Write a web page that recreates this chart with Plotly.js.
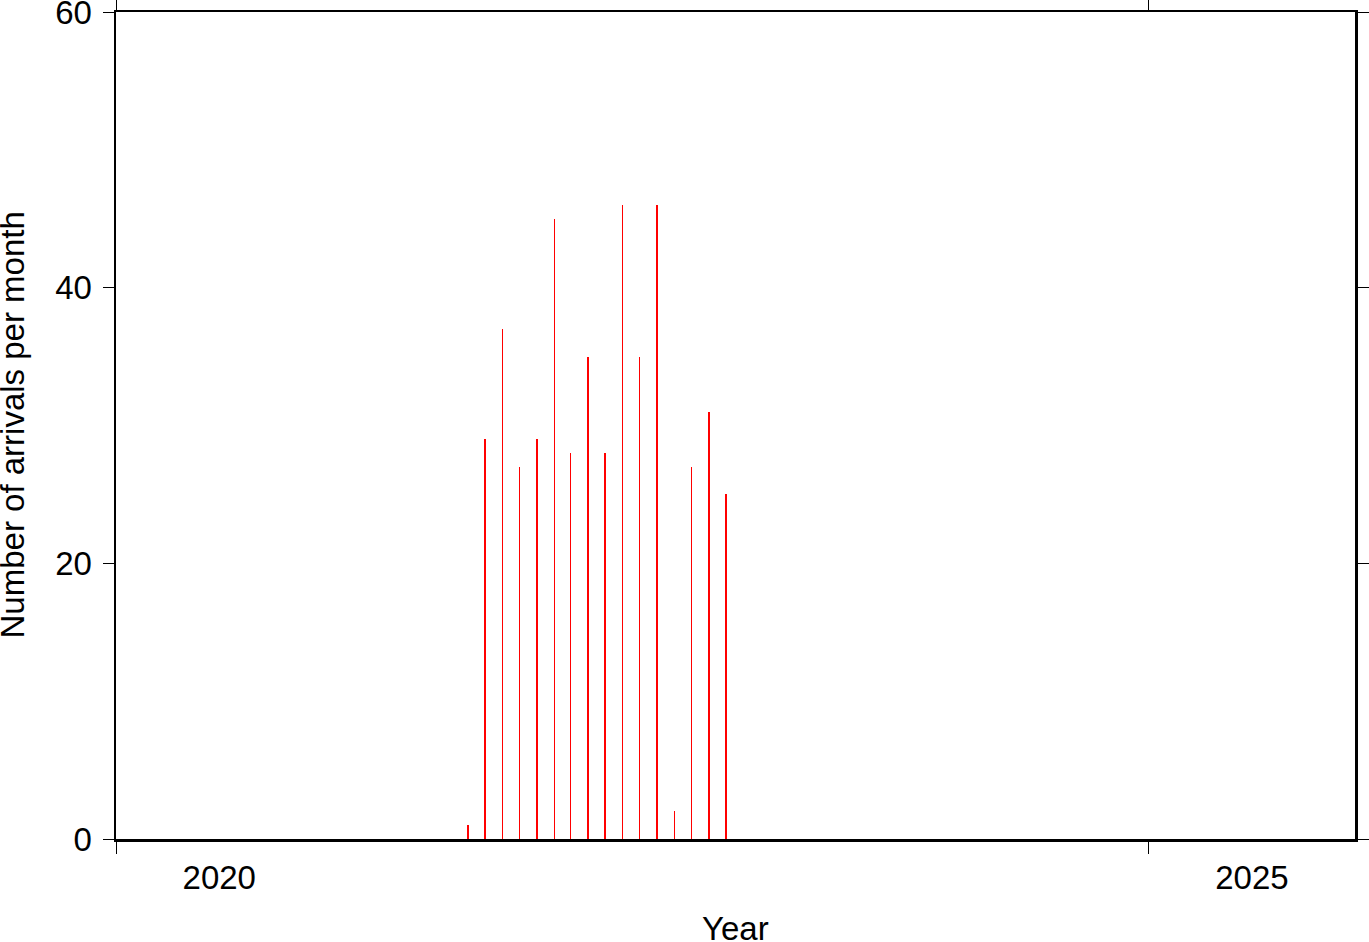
<!DOCTYPE html>
<html>
<head>
<meta charset="utf-8">
<script src="https://cdn.plot.ly/plotly-3.0.1.min.js"></script>
<style>html,body{margin:0;padding:0;background:#fff;}#chart{width:1369px;height:942px;}</style>
</head>
<body>
<div id="chart"></div>
<script>
const months = ["2021-09-15","2021-10-15","2021-11-15","2021-12-15","2022-01-15","2022-02-15","2022-03-15","2022-04-15","2022-05-15","2022-06-15","2022-07-15","2022-08-15","2022-09-15","2022-10-15","2022-11-15","2022-12-15"];
const arrivals = [1, 29, 37, 27, 29, 45, 28, 35, 28, 46, 35, 46, 2, 27, 31, 25];
const yTickStep = 20;
const xTitle = "Year";
const yTitle = "Number of arrivals per month";

const font = {family: "Liberation Sans, Arial, sans-serif", size: 33, color: "#000"};
const DAY = 86400000;

const trace = {
  type: "bar",
  x: months,
  y: arrivals,
  width: months.map(() => 2.8 * DAY),
  marker: {color: "#ff0000", line: {width: 0}},
  hoverinfo: "x+y"
};

const layout = {
  width: 1369, height: 942,
  margin: {l: 116, r: 14, t: 12, b: 103},
  paper_bgcolor: "#fff", plot_bgcolor: "#fff",
  showlegend: false,
  font: font,
  bargap: 0,
  xaxis: {
    type: "date",
    range: ["2020-01-01", "2026-01-01"],
    tick0: "2020-01-01", dtick: "M60",
    tickformat: "%Y", ticklabelmode: "period",
    ticks: "outside", ticklen: 12, tickwidth: 1, tickcolor: "#000",
    showline: true, linewidth: 2.5, linecolor: "#000", mirror: "ticks",
    showgrid: false, zeroline: false,
    ticklabelstandoff: -4,
    ticklabeloverflow: "allow",
    tickfont: font,
    automargin: false
  },
  yaxis: {
    range: [0, 60],
    tickmode: "linear", tick0: 0, dtick: yTickStep,
    ticks: "outside", ticklen: 11, tickwidth: 1, tickcolor: "#000",
    showline: true, linewidth: 2.5, linecolor: "#000", mirror: "ticks",
    showgrid: false, zeroline: false,
    ticklabelstandoff: 4,
    ticklabeloverflow: "allow",
    tickfont: font,
    automargin: false
  },
  annotations: [
    {text: xTitle, xref: "paper", yref: "paper", x: 0.5, y: 0, xanchor: "center", yanchor: "middle",
     yshift: -89, showarrow: false, font: font},
    {text: yTitle, xref: "paper", yref: "paper", x: 0, y: 0.5, xanchor: "center", yanchor: "middle",
     xshift: -104, textangle: -90, showarrow: false, font: font}
  ]
};

Plotly.newPlot("chart", [trace], layout, {displayModeBar: false, staticPlot: true});
</script>
</body>
</html>
